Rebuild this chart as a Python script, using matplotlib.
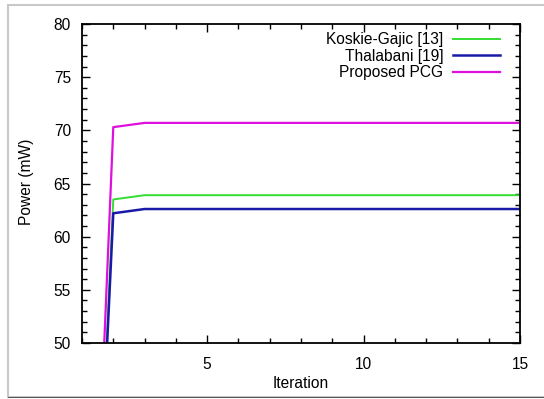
import matplotlib
matplotlib.use("Agg")
import matplotlib.pyplot as plt
from matplotlib.patches import Rectangle
from matplotlib.ticker import MultipleLocator

iterations = [1, 2, 3, 4, 5, 6, 7, 8, 9, 10, 11, 12, 13, 14, 15]
koskie_gajic = [0, 63.5, 63.9, 63.9, 63.9, 63.9, 63.9, 63.9, 63.9, 63.9, 63.9, 63.9, 63.9, 63.9, 63.9]
thalabani = [0, 62.2, 62.6, 62.6, 62.6, 62.6, 62.6, 62.6, 62.6, 62.6, 62.6, 62.6, 62.6, 62.6, 62.6]
proposed_pcg = [0, 70.3, 70.7, 70.7, 70.7, 70.7, 70.7, 70.7, 70.7, 70.7, 70.7, 70.7, 70.7, 70.7, 70.7]
labels = ["Koskie-Gajic [13]", "Thalabani [19]", "Proposed PCG"]

FS = 11.2
plt.rcParams['font.family'] = ['Liberation Sans', 'DejaVu Sans']
plt.rcParams['font.size'] = FS

fig = plt.figure(figsize=(5.44, 3.99), dpi=100)
W, H = 544, 399
# outer frame
fig.add_artist(Rectangle((8 / W, 1 - 397 / H), 1.2, (397 - 5) / H, transform=fig.transFigure,
                         facecolor='white', edgecolor='#c8c8c8', lw=1.5, zorder=-2))
fig.add_artist(Rectangle((8 / W, 1 - 398 / H), 1.2, 0.003, transform=fig.transFigure,
                         facecolor='#555555', edgecolor='none', zorder=-1))

ax = fig.add_axes([82 / W, 1 - 343 / H, (520 - 82) / W, (343 - 24) / H])
ax.set_zorder(1)
ax.plot(iterations, koskie_gajic, color='#33dd33', lw=1.4, label=labels[0])
ax.plot(iterations, thalabani, color='#1a1aa8', lw=1.8, label=labels[1])
ax.plot(iterations, proposed_pcg, color='#dd10dd', lw=1.6, label=labels[2])

ax.set_xlim(1, 15)
ax.set_ylim(50, 80)
ax.set_xticks([5, 10, 15])
ax.xaxis.set_minor_locator(MultipleLocator(1))
ax.yaxis.set_major_locator(MultipleLocator(5))
ax.yaxis.set_minor_locator(MultipleLocator(1))
ax.tick_params(which='both', direction='in', top=True, right=True, width=1.0, colors='black')
ax.tick_params(which='major', length=6, labelsize=FS)
ax.tick_params(which='minor', length=3.5)
ax.tick_params(axis='y', pad=8)
ax.tick_params(axis='x', pad=10)
for s in ax.spines.values():
    s.set_linewidth(1.3)

ax.set_xlabel('Iteration', fontsize=FS)
ax.set_ylabel('Power (mW)', fontsize=FS)
ax.xaxis.set_label_coords(0.5, -(383 - 343) / 319, transform=ax.transAxes)
ax.xaxis.label.set_va('center')
ax.yaxis.set_label_coords(-(82 - 27) / 438, (343 - 182) / 319, transform=ax.transAxes)
ax.yaxis.label.set_va('center')

ax.legend(loc='upper right', bbox_to_anchor=((500 - 82) / 438, 1 - (32 - 24) / 319),
          frameon=False, markerfirst=False, borderpad=0, handlelength=3.0,
          handletextpad=0.64, labelspacing=0.1, fontsize=FS, borderaxespad=0)

fig.savefig('out.png', dpi=100)
